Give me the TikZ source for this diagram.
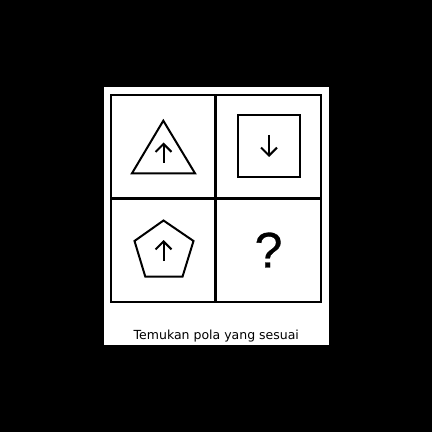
\documentclass[tikz,border=0pt]{standalone}
\usepackage{fontspec}
\setmainfont{DejaVu Sans}
\newfontfamily\qfont[FakeBold=0.6]{Liberation Sans}
\usetikzlibrary{arrows.meta}
\begin{document}
\begin{tikzpicture}[x=0.5pt, y=-0.5pt, line join=miter, line cap=butt,
    >={Straight Barb[length=4pt,width=8pt]},
    cell/.style={line width=1pt},
    midline/.style={line width=1.6pt},
    figline/.style={line width=1pt},
    arr/.style={->, line width=1pt}]
                \def\xl{111} \def\xm{215.7} \def\xr{321} % grid
                \def\yt{95} \def\ym{198.5} \def\yb{302}
                \useasboundingbox[fill=black] (0,0) rectangle (432,432);
                \fill[white] (104,87) rectangle (329,344.5);
                \draw[cell] (\xl,\yt) rectangle (\xr,\yb);
                \draw[midline] (\xm,\yt)--(\xm,\yb) (\xl,\ym)--(\xr,\ym);
                % segitiga
                \draw[figline] (163.3,120.7)--(132,173.3)--(195,173.3)--cycle;
                \draw[arr] (163.5,163)--(163.5,142.5);
                % persegi
                \draw[figline] (238,115) rectangle (300,177.3);
                \draw[arr] (269,135)--(269,157);
                % segilima
                \draw[figline] (163.5,220.5)--(193.5,241)--(182.5,276.7)--(145.3,276.7)--(134.5,241)--cycle;
                \draw[arr] (163.5,261)--(163.5,240);
                \node (tanya) at (268.5,250) {\qfont\fontsize{25}{30}\selectfont ?};
                \node[anchor=base, font=\fontsize{6.25}{7.5}\selectfont] (soal) at (216.3,339) {Temukan pola yang sesuai};
            \end{tikzpicture}
\end{document}
